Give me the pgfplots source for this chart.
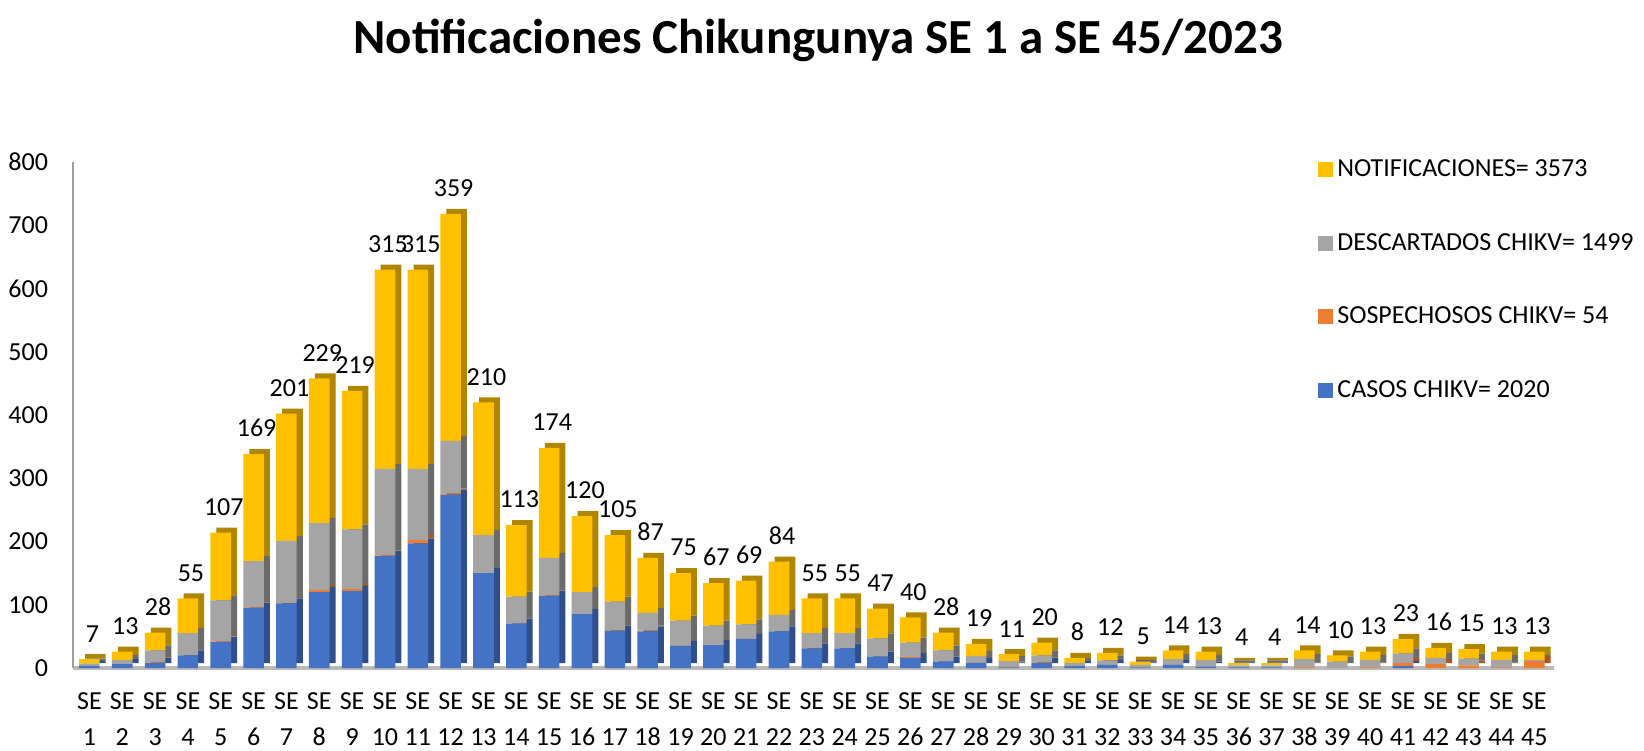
\documentclass[border=0pt]{standalone}
\usepackage{fontspec}
\setmainfont{Carlito}
\usepackage{pgfplots}
\usepackage{pgfplotstable}
\pgfplotsset{compat=1.18}

\definecolor{cblue}{HTML}{4472C4}
\definecolor{cblueD}{HTML}{2F4F8C}
\definecolor{corange}{HTML}{ED7D31}
\definecolor{corangeD}{HTML}{A9561F}
\definecolor{cgray}{HTML}{A5A5A5}
\definecolor{cgrayD}{HTML}{6B6B6B}
\definecolor{cyellow}{HTML}{FFC000}
\definecolor{cyellowD}{HTML}{B08500}

\pgfplotstableread{
x casos sosp desc notif total
1 3 0 4 7 14
2 6 0 7 13 26
3 8 1 19 28 56
4 20 0 35 55 110
5 41 1 65 107 214
6 95 1 73 169 338
7 102 1 98 201 402
8 120 3 106 229 458
9 122 3 94 219 438
10 177 1 137 315 630
11 197 5 113 315 630
12 274 2 83 359 718
13 150 0 60 210 420
14 70 0 43 113 226
15 114 1 59 174 348
16 85 0 35 120 240
17 59 1 45 105 210
18 58 1 28 87 174
19 35 0 40 75 150
20 36 0 31 67 134
21 46 0 23 69 138
22 58 0 26 84 168
23 31 1 23 55 110
24 31 0 24 55 110
25 18 0 29 47 94
26 16 1 23 40 80
27 10 0 18 28 56
28 8 0 11 19 38
29 1 1 9 11 22
30 8 1 11 20 40
31 3 0 5 8 16
32 5 0 7 12 24
33 1 0 4 5 10
34 5 0 9 14 28
35 2 0 11 13 26
36 1 0 3 4 8
37 1 0 3 4 8
38 0 1 13 14 28
39 0 0 10 10 20
40 0 1 12 13 26
41 3 5 15 23 46
42 0 6 10 16 32
43 0 4 11 15 30
44 0 1 12 13 26
45 0 11 2 13 26
}\datatable

\pgfplotsset{
  base/.style={scale only axis, width=740.5pt, height=253pt,
    xmin=0.5, xmax=45.6, ymin=0, ymax=800},
  sq/.style={legend image code/.code={\fill[##1] (0pt,-3.75pt) rectangle (7.5pt,3.75pt);}}
}

\begin{document}
\begin{tikzpicture}
% depth (3D side/top faces)
\begin{axis}[base, ybar stacked, bar width=10.3pt, hide axis, at={(3pt,2.5pt)}, anchor=south west]
\addplot[fill=cblueD, draw=none] table[x=x,y=casos]{\datatable};
\addplot[fill=corangeD, draw=none] table[x=x,y=sosp]{\datatable};
\addplot[fill=cgrayD, draw=none] table[x=x,y=desc]{\datatable};
\addplot[fill=cyellowD, draw=none] table[x=x,y=notif]{\datatable};
\end{axis}
% front faces
\begin{axis}[base, ybar stacked, bar width=10.3pt, at={(0pt,0pt)}, anchor=south west,
  axis x line*=bottom, axis y line*=left,
  x axis line style={-, draw=gray!55, line width=2.2pt},
  y axis line style={-, draw=gray!75, line width=0.8pt},
  xtick={1,...,45},
  xticklabels={{SE\\1},{SE\\2},{SE\\3},{SE\\4},{SE\\5},{SE\\6},{SE\\7},{SE\\8},{SE\\9},{SE\\10},{SE\\11},{SE\\12},{SE\\13},{SE\\14},{SE\\15},{SE\\16},{SE\\17},{SE\\18},{SE\\19},{SE\\20},{SE\\21},{SE\\22},{SE\\23},{SE\\24},{SE\\25},{SE\\26},{SE\\27},{SE\\28},{SE\\29},{SE\\30},{SE\\31},{SE\\32},{SE\\33},{SE\\34},{SE\\35},{SE\\36},{SE\\37},{SE\\38},{SE\\39},{SE\\40},{SE\\41},{SE\\42},{SE\\43},{SE\\44},{SE\\45}},
  ytick={0,100,...,800},
  tick style={draw=none},
  /pgf/number format/assume math mode=true,
  tick label style={font=\fontsize{13}{15.5}\selectfont},
  xticklabel style={align=center, yshift=-9pt, font=\fontsize{13}{18}\selectfont},
  yticklabel style={xshift=-9pt},
  reverse legend,
  legend style={draw=none, fill=none, at={(axis description cs:0.8366,1.022)}, anchor=north west,
    row sep=23pt, font=\fontsize{13}{15.5}\selectfont, cells={anchor=west}},
]
\addplot[fill=cblue, draw=none, sq] table[x=x,y=casos]{\datatable};
\addplot[fill=corange, draw=none, sq] table[x=x,y=sosp]{\datatable};
\addplot[fill=cgray, draw=none, sq] table[x=x,y=desc]{\datatable};
\addplot[fill=cyellow, draw=none, sq] table[x=x,y=notif]{\datatable};
\legend{CASOS CHIKV= 2020, SOSPECHOSOS CHIKV= 54, DESCARTADOS CHIKV= 1499, NOTIFICACIONES= 3573}
\end{axis}
% data labels (notificaciones)
\begin{axis}[base, hide axis, at={(0pt,0pt)}, anchor=south west, clip=false]
\addplot[draw=none, mark=none, nodes near coords, point meta=explicit symbolic,
  nodes near coords style={font=\fontsize{13}{15.5}\selectfont, anchor=south, yshift=5pt, xshift=1.5pt, text=black}]
  table[x=x,y=total,meta=notif]{\datatable};
\end{axis}
\node[font=\fontsize{24.5}{29}\selectfont\bfseries] at (372.5pt,314pt) {Notificaciones Chikungunya SE 1 a SE 45/2023};
\pgfresetboundingbox
\useasboundingbox (-36.5pt,-41pt) rectangle (785.5pt,334pt);
\end{tikzpicture}
\end{document}
